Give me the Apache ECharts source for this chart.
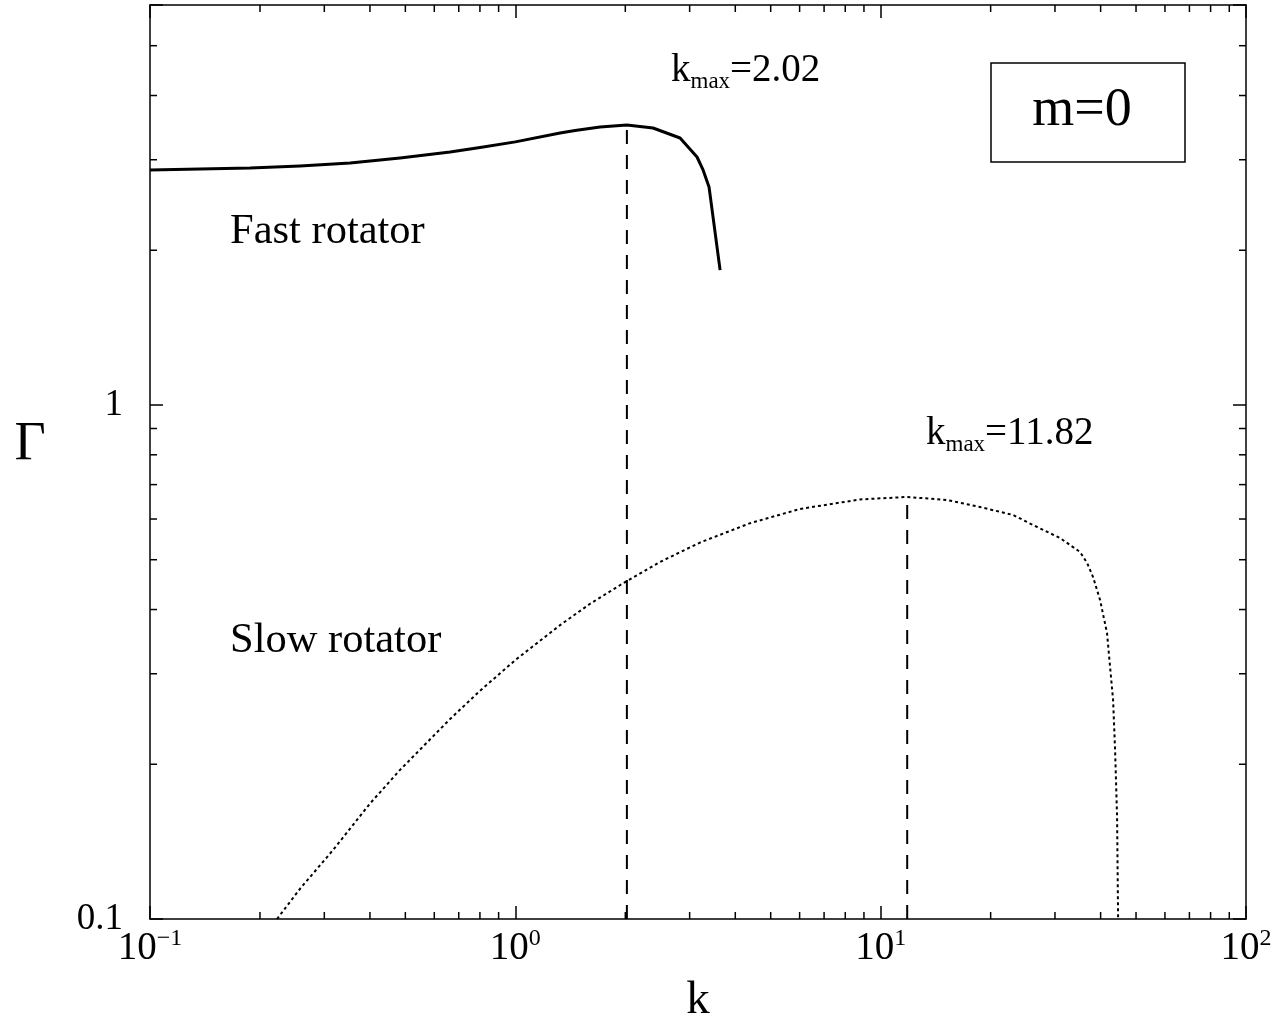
<!DOCTYPE html>
<html>
<head>
<meta charset="utf-8">
<script src="https://cdn.jsdelivr.net/npm/echarts@6/dist/echarts.min.js"></script>
<style>
  html, body { margin: 0; padding: 0; background: #fff; }
  #chart { width: 1281px; height: 1025px; }
</style>
</head>
<body>
<div id="chart"></div>
<script>
// fast rotator (solid line)
const fastK = [0.1, 0.137, 0.188, 0.2574, 0.353, 0.4835, 0.663, 0.8006, 1.0, 1.326, 1.457, 1.706, 2.02, 2.382, 2.824, 3.143, 3.265, 3.39, 3.635];
const fastGamma = [2.866, 2.878, 2.89, 2.917, 2.957, 3.024, 3.106, 3.17, 3.25, 3.382, 3.42, 3.474, 3.505, 3.458, 3.307, 3.037, 2.866, 2.656, 1.83];
// slow rotator (dotted line)
const slowK = [0.2227, 0.2574, 0.317, 0.4, 0.4835, 0.663, 0.8006, 1.0, 1.326, 1.601, 2.02, 2.489, 3.203, 4.39, 6.017, 8.784, 11.82, 15.2, 18.72, 23.04, 26.14, 30.98, 33.0, 35.14, 36.73, 38.14, 39.86, 41.65, 42.46, 43.27, 43.82, 44.37, 44.66];
const slowGamma = [0.1, 0.1145, 0.1362, 0.1677, 0.195, 0.245, 0.278, 0.319, 0.373, 0.4104, 0.4546, 0.495, 0.54, 0.5889, 0.6277, 0.655, 0.6623, 0.6533, 0.633, 0.611, 0.584, 0.551, 0.534, 0.5176, 0.4929, 0.4627, 0.4175, 0.36, 0.309, 0.2668, 0.2132, 0.158, 0.1];
// maxima
const kMax = [2.02, 11.82];
const gammaMax = [3.505, 0.6623];
// axis ranges and minor ticks
const xRange = [0.1, 100];
const yRange = [0.1, 6];
const xMinorTicks = [0.2, 0.3, 0.4, 0.5, 0.6, 0.7, 0.8, 0.9, 2, 3, 4, 5, 6, 7, 8, 9, 20, 30, 40, 50, 60, 70, 80, 90];
const yMinorTicks = [0.2, 0.3, 0.4, 0.5, 0.6, 0.7, 0.8, 0.9, 2, 3, 4, 5];

const FONT = 'Liberation Serif';
const zip = (a, b) => a.map((v, i) => [v, b[i]]);

const chart = echarts.init(document.querySelector('#chart'));

const xLabel = v => {
  const e = Math.round(Math.log10(v));
  return '{b|10}{s|' + (e < 0 ? '\u2212' + (-e) : e) + '}';
};
const yLabel = v => {
  const e = Math.log10(v);
  if (Math.abs(e - Math.round(e)) > 1e-6) return '';
  return Math.round(e) < 0 ? '0.1' : String(Math.pow(10, Math.round(e)));
};

const frameAxis = {
  axisLine: { show: true, lineStyle: { color: '#000', width: 1.5 } },
  axisTick: { show: true, inside: true, length: 13, lineStyle: { color: '#000', width: 1.5 } },
  splitLine: { show: false },
  minorTick: { show: false }
};

// minor ticks on all four frame sides
function xMinorRender(params, api) {
  const cs = params.coordSys;
  const p = api.coord([api.value(0), yRange[0]]);
  const st = { stroke: '#000', lineWidth: 1.5 };
  return {
    type: 'group', children: [
      { type: 'line', shape: { x1: p[0], y1: cs.y + cs.height, x2: p[0], y2: cs.y + cs.height - 7 }, style: st },
      { type: 'line', shape: { x1: p[0], y1: cs.y, x2: p[0], y2: cs.y + 7 }, style: st }
    ]
  };
}
function yMinorRender(params, api) {
  const cs = params.coordSys;
  const p = api.coord([xRange[0], api.value(1)]);
  const st = { stroke: '#000', lineWidth: 1.5 };
  return {
    type: 'group', children: [
      { type: 'line', shape: { x1: cs.x, y1: p[1], x2: cs.x + 7, y2: p[1] }, style: st },
      { type: 'line', shape: { x1: cs.x + cs.width, y1: p[1], x2: cs.x + cs.width - 7, y2: p[1] }, style: st }
    ]
  };
}

const kmaxText = v => '{k|k}{s|max}{k|=' + v.toFixed(2) + '}';
const kmaxRich = {
  k: { fontFamily: FONT, fontSize: 39, lineHeight: 44, color: '#000' },
  s: { fontFamily: FONT, fontSize: 23, lineHeight: 14, verticalAlign: 'bottom', color: '#000' }
};
const txt = (x, y, text, size, align) => ({
  type: 'text', x, y,
  style: {
    text, font: size + 'px "' + FONT + '"', fill: '#000',
    align: align || 'left', textAlign: align || 'left',
    verticalAlign: 'middle', textVerticalAlign: 'middle'
  }
});

const option = {
  animation: false,
  backgroundColor: '#fff',
  grid: { left: 150, right: 35, top: 5, bottom: 106 },
  xAxis: [
    Object.assign({
      type: 'log', logBase: 10, min: xRange[0], max: xRange[1], position: 'bottom',
      axisLabel: {
        margin: 8, showMinLabel: true, showMaxLabel: true, formatter: xLabel,
        rich: {
          b: { fontFamily: FONT, fontSize: 39, lineHeight: 44, color: '#000' },
          s: { fontFamily: FONT, fontSize: 24, lineHeight: 20, verticalAlign: 'top', color: '#000' }
        }
      }
    }, frameAxis),
    Object.assign({
      type: 'log', logBase: 10, min: xRange[0], max: xRange[1], position: 'top',
      axisLabel: { show: false }
    }, frameAxis)
  ],
  yAxis: [
    Object.assign({
      type: 'log', logBase: 10, min: yRange[0], max: yRange[1], position: 'left',
      axisLabel: {
        margin: 27, showMinLabel: true, formatter: yLabel,
        fontFamily: FONT, fontSize: 37, color: '#000'
      }
    }, frameAxis),
    Object.assign({
      type: 'log', logBase: 10, min: yRange[0], max: yRange[1], position: 'right',
      axisLabel: { show: false }
    }, frameAxis)
  ],
  series: [
    {
      type: 'line', data: zip(fastK, fastGamma), showSymbol: false, smooth: false,
      lineStyle: { color: '#000', width: 3, join: 'round' }
    },
    {
      type: 'line', data: zip(slowK, slowGamma), showSymbol: false, smooth: false,
      lineStyle: { color: '#000', width: 2, type: [3, 3] }
    },
    ...kMax.map((k, i) => ({
      type: 'line', data: [[k, yRange[0]], [k, gammaMax[i]]], showSymbol: false,
      lineStyle: { color: '#000', width: 2, type: [14, 11] }
    })),
    {
      type: 'custom', renderItem: xMinorRender, clip: false, silent: true,
      data: xMinorTicks.map(v => [v, yRange[0]])
    },
    {
      type: 'custom', renderItem: yMinorRender, clip: false, silent: true,
      data: yMinorTicks.map(v => [xRange[0], v])
    }
  ],
  graphic: [
    txt(30, 445, '\u0393', 54, 'center'),
    txt(698, 1001, 'k', 47, 'center'),
    txt(230, 232, 'Fast rotator', 42.5),
    txt(230, 641, 'Slow rotator', 42.5),
    {
      type: 'text', x: 671, y: 71,
      style: { text: kmaxText(kMax[0]), rich: kmaxRich, align: 'left', textAlign: 'left', verticalAlign: 'middle', textVerticalAlign: 'middle' }
    },
    {
      type: 'text', x: 926, y: 434,
      style: { text: kmaxText(kMax[1]), rich: kmaxRich, align: 'left', textAlign: 'left', verticalAlign: 'middle', textVerticalAlign: 'middle' }
    },
    {
      type: 'rect', shape: { x: 991, y: 63, width: 194, height: 99 },
      style: { fill: 'none', stroke: '#000', lineWidth: 1.5 }
    },
    txt(1082, 111, 'm=0', 54, 'center')
  ]
};
chart.setOption(option);
</script>
</body>
</html>
